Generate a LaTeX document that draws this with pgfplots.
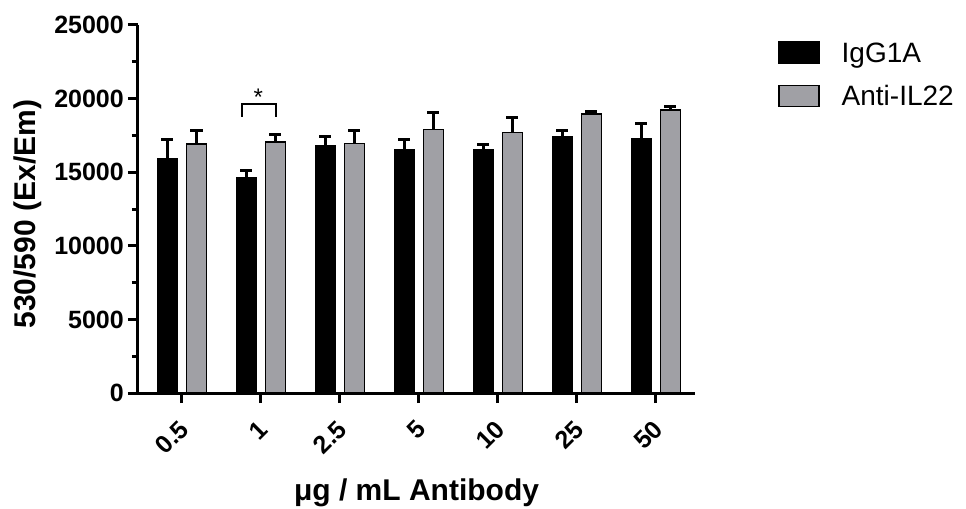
\documentclass[border=0pt]{standalone}
\usepackage{fontspec}
\setmainfont{Liberation Sans}
\usepackage{pgfplots}
\usepackage{pgfplotstable}
\pgfplotsset{compat=1.18}
\definecolor{barg}{RGB}{160,160,165}
\pgfplotstableread{
x a ae b be
0 15880 1360 16900 960
1 14630 470 17050 540
2 16800 630 16940 870
3 16550 690 17910 1150
4 16550 350 17710 1010
5 17410 420 18950 170
6 17280 1050 19220 240
}\data
\begin{document}
\begin{tikzpicture}
\path[use as bounding box] (-138bp,-116bp) rectangle (828bp,393bp);
\begin{axis}[
  scale only axis, width=557bp, height=368bp,
  xmin=-0.557, xmax=6.494, ymin=0, ymax=25000,
  ybar=9bp, bar width=20bp,
  axis lines=left, axis line style={-, line width=3bp, black},
  ytick={0,5000,10000,15000,20000,25000}, minor y tick num=1,
  scaled y ticks=false,
  xtick={0,1,2,3,4,5,6}, xticklabels={0.5,1,2.5,5,10,25,50},
  tick align=outside, major tick length=10bp, minor tick length=6bp,
  tick style={line width=3bp, black},
  /pgf/number format/assume math mode=true,
  /pgf/number format/1000 sep={},
  ticklabel style={font=\fontsize{25bp}{30bp}\selectfont\bfseries},
  yticklabel style={inner sep=0pt, xshift=-4bp},
  xticklabel style={inner sep=0pt, xshift=2bp, yshift=-22bp, rotate=45, anchor=east},
  xlabel={μg / mL Antibody},
  ylabel={530/590 (Ex/Em)},
  label style={font=\fontsize{30bp}{36bp}\selectfont\bfseries},
  xlabel style={at={(axis description cs:0.5,0)}, anchor=base, yshift=-107bp},
  ylabel style={at={(axis description cs:-0.1975,0.486)}, anchor=center},
  legend image code/.code={\draw[#1, line width=1.5bp] (0bp,-10.5bp) rectangle (40bp,10.5bp);},
  legend style={at={(rel axis cs:1.149,0.9565)}, anchor=north west, draw=none, fill=none,
    inner sep=0pt, row sep=21bp, column sep=22bp,
    font=\fontsize{28bp}{33bp}\selectfont,
    nodes={inner sep=0pt, text height=20bp, text depth=0bp}},
  legend cell align=left,
  error bars/y dir=plus, error bars/y explicit,
  error bars/error bar style={line width=3bp, black},
  error bars/error mark options={rotate=90, mark size=6bp, line width=3bp, black},
]
\addplot[fill=black, draw=black, line width=1.5bp]
  table[x=x, y=a, y error=ae] {\data};
\addlegendentry{IgG1A}
\addplot[fill=barg, draw=black, line width=1.5bp]
  table[x=x, y=b, y error=be] {\data};
\addlegendentry{Anti-IL22}
\draw[line width=2bp, black] (axis cs:0.759,18750) -- (axis cs:0.759,19630) -- (axis cs:1.186,19630) -- (axis cs:1.186,18750);
\node[anchor=base, inner sep=0pt, font=\fontsize{24bp}{28bp}\selectfont] at (axis cs:0.965,19565) {*};
\end{axis}
\end{tikzpicture}
\end{document}
